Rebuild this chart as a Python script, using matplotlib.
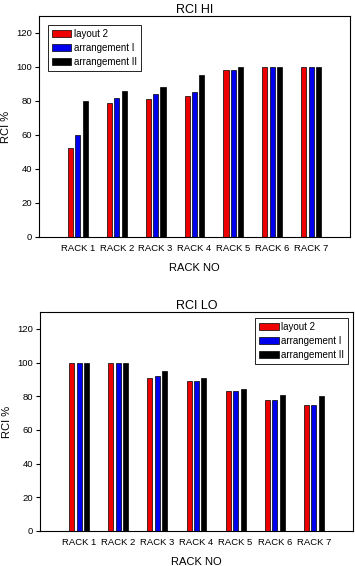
import numpy as np
import matplotlib
matplotlib.use('Agg')
import matplotlib.pyplot as plt

plt.rcParams.update({
    'font.family': ['Liberation Sans', 'DejaVu Sans'],
    'font.size': 6.5,
    'axes.linewidth': 0.8,
})

racks = ['RACK 1', 'RACK 2', 'RACK 3', 'RACK 4', 'RACK 5', 'RACK 6', 'RACK 7']
series = ['layout 2', 'arrangement I', 'arrangement II']
colores = ['#ee0000', '#0000ee', '#000000']

# RCI HI
hi_layout2 = [52.5, 79, 81, 83, 98, 100, 100]
hi_arr1 = [60, 82, 84, 85, 98, 100, 100]
hi_arr2 = [80, 86, 88, 95, 100, 100, 100]

# RCI LO
lo_layout2 = [100, 100, 91, 89, 83, 77.5, 75]
lo_arr1 = [100, 100, 92, 89, 83, 78, 75]
lo_arr2 = [100, 100, 95, 91, 84, 81, 80]

W, H = 355, 566
fig = plt.figure(figsize=(W / 100, H / 100), dpi=100)

def px_axes(left, top, right, bottom):
    return fig.add_axes([left / W, 1 - bottom / H, (right - left) / W, (bottom - top) / H])

def panel(ax, datos, titulo, legend_loc, legend_anchor):
    x = np.arange(1, len(racks) + 1)
    ancho = 0.13
    paso = 0.19
    for i, (vals, c, nom) in enumerate(zip(datos, colores, series)):
        ax.bar(x + (i - 1) * paso, vals, ancho, color=c, edgecolor='black',
               linewidth=0.5, label=nom)
    ax.set_xlim(0, 8)
    ax.set_ylim(0, 130)
    ax.set_xticks(x)
    ax.set_xticklabels(racks, fontsize=6.8)
    ax.tick_params(axis='x', length=0, pad=5)
    ax.set_yticks(np.arange(0, 121, 20))
    ax.tick_params(axis='y', direction='out', length=3, width=0.8, labelsize=6.8, pad=2)
    ax.set_xlabel('RACK NO', fontsize=8, labelpad=7)
    ax.set_ylabel('RCI %', fontsize=8, labelpad=4)
    ax.set_title(titulo, fontsize=9, pad=2.5)
    leg = ax.legend(loc=legend_loc, bbox_to_anchor=legend_anchor, fontsize=7,
                    frameon=True, fancybox=False, edgecolor='black', framealpha=1,
                    handlelength=2.0, handleheight=0.75, handletextpad=0.25,
                    labelspacing=0.4, borderpad=0.4, borderaxespad=0)
    leg.get_frame().set_linewidth(0.6)

ax1 = px_axes(39, 16, 350, 237)
panel(ax1, [hi_layout2, hi_arr1, hi_arr2], 'RCI HI', 'upper left',
      ((48 - 39) / 311, 1 - (25 - 16) / 221))

ax2 = px_axes(40, 312, 353, 531)
panel(ax2, [lo_layout2, lo_arr1, lo_arr2], 'RCI LO', 'upper right',
      ((348 - 40) / 313, 1 - (318 - 312) / 219))

plt.savefig('out.png', dpi=100)
plt.close()
